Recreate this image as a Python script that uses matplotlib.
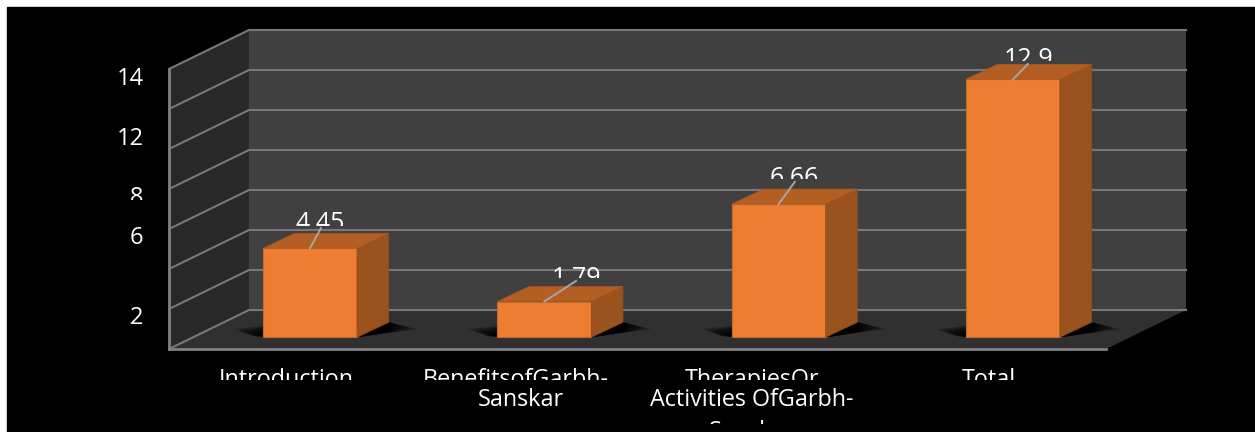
import matplotlib
matplotlib.use('Agg')
import matplotlib.pyplot as plt
from matplotlib.patches import Polygon, Rectangle
from matplotlib.transforms import Bbox

categories = ['Introduction', 'BenefitsofGarbh-\nSanskar', 'TherapiesOr\nActivities OfGarbh-\nSanskar', 'Total']
values = [4.45, 1.79, 6.66, 12.9]
value_labels = ['4.45', '1.79', '6.66', '12.9']
tick_labels = ['14', '12', '8', '6', '2']
grid_levels = [0, 2, 4, 6, 8, 10, 12, 14]

W, H = 1255, 432
X0, XSTEP = 310.0, 234.3   # pixel of first category, pixels per category
Y0, YSTEP = 337.3, 20.0    # pixel of value 0 at the bar front, pixels per unit

plt.rcParams['font.family'] = ['Open Sans', 'DejaVu Sans']

fig = plt.figure(figsize=(W / 100, H / 100), dpi=100, facecolor='white')
ax = fig.add_axes([0, 0, 1, 1])
ax.set_xlim(-X0 / XSTEP, (W - X0) / XSTEP)
ax.set_ylim((Y0 - H) / YSTEP, Y0 / YSTEP)
ax.axis('off')

# pixels -> data helpers for layout only
def px(x):
    return (x - X0) / XSTEP

def py(y):
    return (Y0 - y) / YSTEP

def clip_text(t, top, bottom):
    t.set_clip_box(Bbox([[0, H - bottom], [W, H - top]]))
    t.set_clip_on(True)

# black card
ax.add_patch(Rectangle((px(7), py(432)), px(1255) - px(7), py(7) - py(432), color='black', zorder=0))

# walls: depth of the chart in data units
wall_l, wall_r = px(169), px(1106)
ddx, ddy = 80 / XSTEP, 39 / YSTEP
floor = py(349)
top = floor + 14
ax.add_patch(Polygon([(wall_l + ddx, floor + ddy), (wall_r + ddx, floor + ddy), (wall_r + ddx, top + ddy), (wall_l + ddx, top + ddy)],
                     color='#404040', lw=0, zorder=1))
ax.add_patch(Polygon([(wall_l, floor), (wall_l + ddx, floor + ddy), (wall_l + ddx, top + ddy), (wall_l, top)],
                     color='#282828', lw=0, zorder=1))
ax.add_patch(Polygon([(wall_l, floor), (wall_r, floor), (wall_r + ddx, floor + ddy), (wall_l + ddx, floor + ddy)],
                     color='#303030', lw=0, zorder=1))

for g in grid_levels:
    yy = floor + g
    ax.plot([wall_l, wall_l + ddx, wall_r + ddx], [yy, yy + ddy, yy + ddy], color='#787878', lw=1.5, zorder=2,
            solid_joinstyle='miter')
ax.plot([wall_l, wall_l], [floor, top], color='#808080', lw=2, zorder=2)
ax.plot([wall_l, wall_r], [floor, floor], color='#808080', lw=2, zorder=2)

# bars
bar_w = 94 / XSTEP
bdx, bdy = 31.7 / XSTEP, 15 / YSTEP
for i, v in enumerate(values):
    l, r = i - bar_w / 2, i + bar_w / 2
    # soft shadow on the floor, many faint layers fading towards front left and back right
    for k in range(30):
        e = (30 - k) / XSTEP
        lift = 0.02 + (30 - k) * 0.012
        ax.add_patch(Polygon([(l - e, lift + 0.05), (l - e * 0.4, lift * 0.2), (r, 0), (r + bdx + e * 0.4, bdy * 0.4),
                              (r + bdx + e, bdy - lift), (r + bdx, bdy), (l + bdx, bdy)],
                             color='black', alpha=0.055, lw=0, zorder=3))
    ax.add_patch(Polygon([(l, 0), (r, 0), (r, v), (l, v)], facecolor='#ED7D31', edgecolor='#C5682A', lw=0.8, zorder=4))
    ax.add_patch(Polygon([(r, 0), (r + bdx, bdy), (r + bdx, v + bdy), (r, v)], facecolor='#9A521E', edgecolor='#8E4C1C', lw=0.5, zorder=4))
    ax.add_patch(Polygon([(l, v), (r, v), (r + bdx, v + bdy), (l + bdx, v + bdy)], facecolor='#B35E23', edgecolor='#A85820', lw=0.5, zorder=4))

# data labels with leader lines, cut off just above the bar
label_base = [230, 285, 185, 66]
label_clip = [226, 278, 179, 61]
label_cx = [320, 576.7, 794.5, 1029]
leader_end = [(321, 228), (576, 281), (794.7, 182), (1028, 64)]
for i, v in enumerate(values):
    ex, ey = leader_end[i]
    ax.plot([i, px(ex)], [v, py(ey)], color='#A6A6A6', lw=1.4, zorder=6)
    t = ax.text(px(label_cx[i]), py(label_base[i]), value_labels[i], color='white', fontsize=18, ha='center',
                va='baseline', zorder=7)
    clip_text(t, 0, label_clip[i])

# y tick labels, uneven as in the picture
tick_base = [85, 145, 204, 244.3, 324]
for s, y in zip(tick_labels, tick_base):
    t = ax.text(px(143.5), py(y), s, color='white', fontsize=17, ha='right', va='baseline', zorder=7)
    if s == '8':
        clip_text(t, 0, 200)

# category labels: line by line with the clipping seen in the image
line_cx = [[286], [515.5, 520.5], [752, 751.5, 752], [989]]
line_base = [386, 406, 438]
line_clip = [(0, 380), (0, 432), (420, 424)]
for i, lab in enumerate(categories):
    for j, line in enumerate(lab.split('\n')):
        t = ax.text(px(line_cx[i][j]), py(line_base[j]), line, color='white', fontsize=16.8, ha='center', va='baseline', zorder=7)
        clip_text(t, *line_clip[j])

fig.savefig('out.png', dpi=100, facecolor='white')
